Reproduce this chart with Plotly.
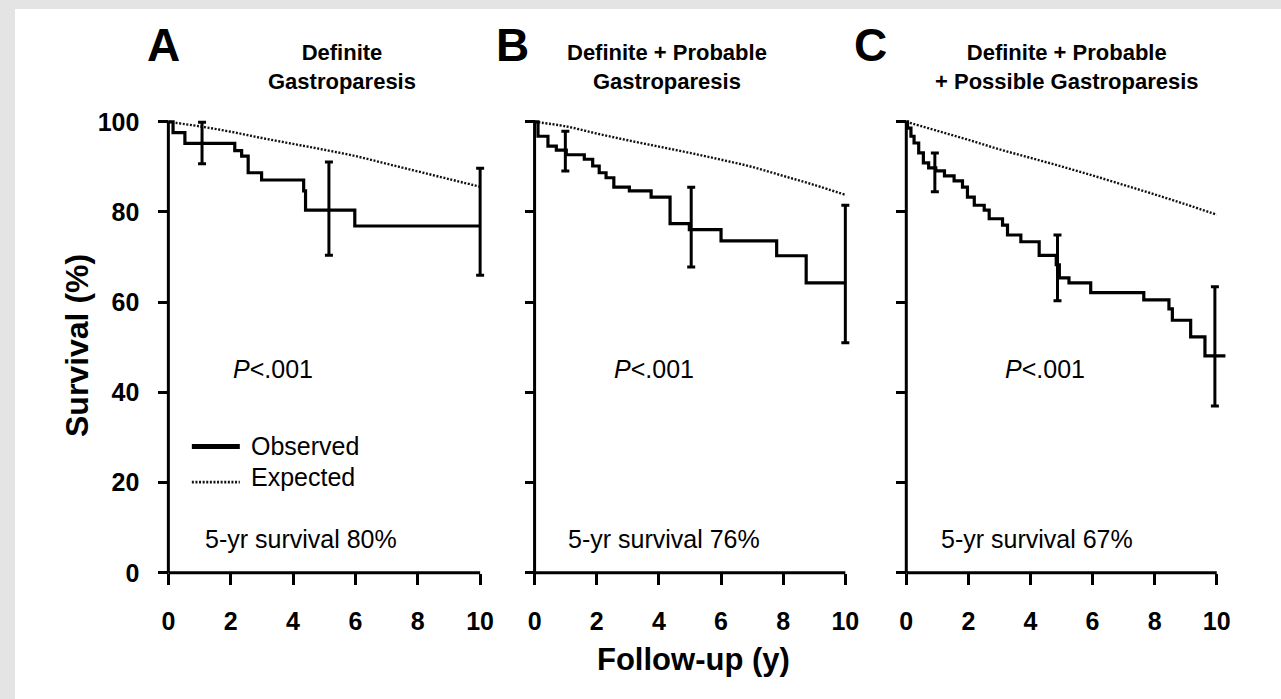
import plotly.graph_objects as go

# ---------------- data ----------------
# Observed Kaplan-Meier step curves (time in years, survival %)
obs_a_t = [0, 0.15, 0.53, 2.13, 2.35, 2.56, 2.99, 4.34, 4.40, 5.98, 10.0]
obs_a_s = [100, 97.6, 95.2, 93.6, 92.4, 88.7, 87.1, 84.7, 80.4, 76.9, 76.9]

obs_b_t = [0, 0.11, 0.43, 0.70, 1.02, 1.60, 1.87, 2.08, 2.30, 2.55, 3.05, 3.75, 4.36, 4.98, 6.00, 7.79, 8.74, 10.0]
obs_b_s = [100, 96.8, 94.6, 93.7, 92.7, 91.7, 90.2, 88.7, 87.6, 85.5, 84.7, 83.3, 77.4, 76.1, 73.6, 70.3, 64.3, 64.3]

obs_c_t = [0, 0.04, 0.15, 0.25, 0.40, 0.55, 0.72, 0.95, 1.23, 1.54, 1.81, 1.97, 2.19, 2.51, 2.67, 3.10, 3.26,
           3.69, 4.28, 4.83, 4.93, 5.24, 5.94, 7.65, 8.46, 8.57, 9.16, 9.62, 10.28]
obs_c_s = [100, 98.6, 96.8, 95.3, 93.1, 90.9, 89.8, 89.1, 88.0, 86.9, 85.5, 83.3, 81.5, 80.4, 78.5, 77.1, 74.9,
           73.4, 70.4, 68.3, 65.4, 64.3, 62.1, 60.5, 58.5, 56.0, 52.3, 48.1, 48.1]

# Expected survival curves
exp_t = [0, 1, 2, 3, 4, 5, 6, 7, 8, 9, 10]
exp_a = [100, 99.0, 97.8, 96.4, 95.1, 93.8, 92.4, 90.7, 89.0, 87.3, 85.6]
exp_b = [100, 99.0, 97.4, 95.9, 94.5, 93.1, 91.6, 90.0, 88.0, 86.0, 83.8]
exp_c = [100, 98.0, 96.0, 93.9, 92.0, 90.1, 88.1, 86.0, 83.9, 81.7, 79.4]

# Confidence intervals (time, estimate, lower, upper)
ci_a_t = [1.08, 5.15, 10.0]
ci_a_m = [95.2, 80.4, 76.9]
ci_a_lo = [90.7, 70.4, 66.0]
ci_a_hi = [99.9, 91.1, 89.7]

ci_b_t = [0.99, 5.04, 10.0]
ci_b_m = [92.7, 76.1, 64.3]
ci_b_lo = [89.1, 67.8, 51.0]
ci_b_hi = [97.9, 85.5, 81.5]

ci_c_t = [0.92, 4.87, 9.94]
ci_c_m = [89.1, 68.3, 48.1]
ci_c_lo = [84.5, 60.3, 37.0]
ci_c_hi = [93.1, 74.9, 63.4]

panel_letters = ["A", "B", "C"]
panel_titles = ["Definite<br>Gastroparesis",
                "Definite + Probable<br>Gastroparesis",
                "Definite + Probable<br>+ Possible Gastroparesis"]
five_year = ["5-yr survival 80%", "5-yr survival 76%", "5-yr survival 67%"]
p_text = "<i>P</i>&lt;.001"
p_x = [2.0, 2.5, 3.1]
five_x = [1.1, 1.0, 1.06]
x_ticks = [0, 2, 4, 6, 8, 10]
y_ticks = [0, 20, 40, 60, 80, 100]
legend_names = ["Observed", "Expected"]

# ---------------- layout geometry ----------------
W, H = 1281, 699
PX0 = [168.5, 535.0, 907.0]
PX10 = [480.5, 846.0, 1217.7]
Y100, Y0 = 118.5, 576.0
XR = [-0.3, 10.4]
YR = [-2.0, 102.0]

FONT = "Liberation Sans, Arial, sans-serif"
BLACK = "#000000"

fig = go.Figure()

panels = [
    (obs_a_t, obs_a_s, exp_a, ci_a_t, ci_a_m, ci_a_lo, ci_a_hi),
    (obs_b_t, obs_b_s, exp_b, ci_b_t, ci_b_m, ci_b_lo, ci_b_hi),
    (obs_c_t, obs_c_s, exp_c, ci_c_t, ci_c_m, ci_c_lo, ci_c_hi),
]

layout_axes = {}
shapes = []
annotations = []

# white page area on a grey frame (left and top strips only)
shapes.append(dict(type="rect", xref="paper", yref="paper", x0=15 / W, x1=1.2, y0=-0.2, y1=1 - 4 / H,
                   fillcolor="white", line=dict(width=0), layer="below"))

ppy = (Y0 - Y100) / 100.0
ydom = [1 - (Y0 - YR[0] * ppy) / H, 1 - (Y0 - YR[1] * ppy) / H]

for i, (ot, os_, ex, ct, cm, clo, chi) in enumerate(panels):
    n = "" if i == 0 else str(i + 1)
    xa, ya = "x" + n, "y" + n
    ppu = (PX10[i] - PX0[i]) / 10.0
    xdom = [(PX0[i] + XR[0] * ppu) / W, (PX0[i] + XR[1] * ppu) / W]

    fig.add_trace(go.Scatter(x=exp_t, y=ex, mode="lines", line=dict(color="#111111", width=2.4, dash="2px,1.6px"),
                             line_shape="spline", xaxis=xa, yaxis=ya, showlegend=False, name="Expected"))
    fig.add_trace(go.Scatter(x=ot, y=os_, mode="lines", line=dict(color=BLACK, width=3.2, shape="hv"),
                             xaxis=xa, yaxis=ya, showlegend=False, name="Observed"))
    fig.add_trace(go.Scatter(x=ct, y=cm, mode="markers", marker=dict(size=1, color="rgba(0,0,0,0)"),
                             error_y=dict(type="data", symmetric=False,
                                          array=[h - m for h, m in zip(chi, cm)],
                                          arrayminus=[m - l for m, l in zip(cm, clo)],
                                          color=BLACK, thickness=3, width=4),
                             xaxis=xa, yaxis=ya, showlegend=False, name="95% CI"))

    layout_axes["xaxis" + n] = dict(domain=xdom, range=XR, anchor="free", position=1 - Y0 / H,
                                    showgrid=False, zeroline=False, showline=False,
                                    tickvals=x_ticks, ticks="outside", ticklen=11, tickwidth=3, tickcolor=BLACK,
                                    ticklabelstandoff=15,
                                    tickfont=dict(family=FONT, size=25, color=BLACK, weight="bold"))
    layout_axes["yaxis" + n] = dict(domain=ydom, range=YR, anchor="free", position=PX0[i] / W,
                                    showgrid=False, zeroline=False, showline=False,
                                    tickvals=y_ticks, ticks="outside", ticklen=10, tickwidth=3, tickcolor=BLACK,
                                    showticklabels=(i == 0), ticklabelstandoff=14,
                                    tickfont=dict(family=FONT, size=25, color=BLACK, weight="bold"))

    # axis lines
    shapes.append(dict(type="line", xref=xa, yref=ya, x0=0, x1=10, y0=0, y1=0, line=dict(color=BLACK, width=3)))
    shapes.append(dict(type="line", xref=xa, yref=ya, x0=0, x1=0, y0=0, y1=100, line=dict(color=BLACK, width=3)))

    # texts inside panel
    annotations.append(dict(xref=xa, yref=ya, x=p_x[i], y=45.2, text=p_text, showarrow=False,
                            xanchor="left", yanchor="middle", font=dict(family=FONT, size=25, color=BLACK)))
    annotations.append(dict(xref=xa, yref=ya, x=five_x[i], y=7.4,
                            text=five_year[i], showarrow=False, xanchor="left", yanchor="middle",
                            font=dict(family=FONT, size=25, color=BLACK)))

# panel letters and titles (paper coords from pixels)
letter_px = [164, 513, 871]
title_px = [342, 668, 1068]
for i in range(3):
    annotations.append(dict(xref="paper", yref="paper", x=letter_px[i] / W, y=1 - 41 / H,
                            text="<b>%s</b>" % panel_letters[i],
                            showarrow=False, xanchor="center", yanchor="middle",
                            font=dict(family=FONT, size=46, color=BLACK)))
    annotations.append(dict(xref="paper", yref="paper", x=title_px[i] / W, y=1 - 63 / H,
                            text="<b>%s</b>" % panel_titles[i],
                            showarrow=False, xanchor="center", yanchor="middle", align="center",
                            font=dict(family=FONT, size=22, color=BLACK)))

# axis titles
annotations.append(dict(xref="paper", yref="paper", x=77 / W, y=1 - 345 / H, text="<b>Survival (%)</b>",
                        textangle=-90, showarrow=False, xanchor="center", yanchor="middle",
                        font=dict(family=FONT, size=32, color=BLACK)))
annotations.append(dict(xref="paper", yref="paper", x=694 / W, y=1 - 664 / H, text="<b>Follow-up (y)</b>",
                        showarrow=False, xanchor="center", yanchor="middle",
                        font=dict(family=FONT, size=31, color=BLACK)))

# legend (drawn in panel A)
shapes.append(dict(type="line", xref="paper", yref="paper", x0=192 / W, x1=240 / W, y0=1 - 448 / H, y1=1 - 448 / H,
                   line=dict(color=BLACK, width=5)))
shapes.append(dict(type="line", xref="paper", yref="paper", x0=192 / W, x1=240 / W, y0=1 - 484 / H, y1=1 - 484 / H,
                   line=dict(color="#111111", width=2.6, dash="2px,1.6px")))
annotations.append(dict(xref="paper", yref="paper", x=249 / W, y=1 - 447 / H, text=legend_names[0], showarrow=False,
                        xanchor="left", yanchor="middle", font=dict(family=FONT, size=25, color=BLACK)))
annotations.append(dict(xref="paper", yref="paper", x=249 / W, y=1 - 479 / H, text=legend_names[1], showarrow=False,
                        xanchor="left", yanchor="middle", font=dict(family=FONT, size=25, color=BLACK)))

fig.update_layout(width=W, height=H, margin=dict(l=0, r=0, t=0, b=0),
                  paper_bgcolor="#e4e4e4", plot_bgcolor="rgba(0,0,0,0)",
                  showlegend=False, shapes=shapes, annotations=annotations, **layout_axes)

fig.write_html("out.html")
